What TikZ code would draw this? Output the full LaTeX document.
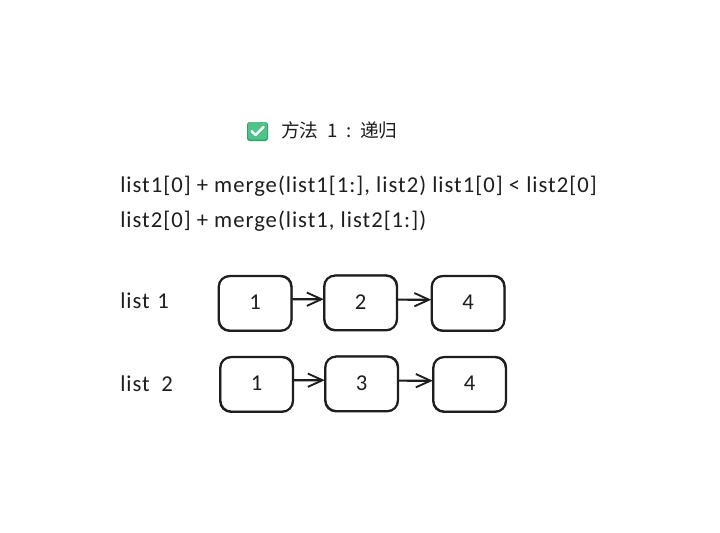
\documentclass[tikz,border=0pt]{standalone}
\usepackage{fontspec}
\setmainfont{Carlito}[LetterSpace=4.4]
\newfontfamily\cjk{Noto Sans CJK SC}
\usetikzlibrary{arrows.meta}
\definecolor{ink}{HTML}{1E1E1E}
\definecolor{chk}{HTML}{4FC38A}
\definecolor{chkd}{HTML}{35A06C}
\newcommand{\dg}[1]{\raisebox{1.5pt}{#1}}
\tikzset{
  box/.style={draw=ink,line width=1.6pt,rounded corners=8pt,minimum width=54.5pt,minimum height=41pt,inner sep=0pt,text=ink,font=\fontsize{17}{19}\selectfont,
    preaction={draw=ink,line width=.8pt,rounded corners=9pt,transform canvas={shift={(.5pt,.5pt)}}}},
  link/.style={draw=ink,line width=1.6pt,-{Straight Barb[length=11pt,width=10pt,line width=1.4pt]},shorten >=-.5pt},
  txt/.style={anchor=base west,inner sep=0pt,text=ink,font=\fontsize{17}{20}\selectfont},
  lab/.style={anchor=base west,inner sep=0pt,text=ink,font=\fontsize{17}{20}\selectfont}
}
\begin{document}
\begin{tikzpicture}[x=.75pt,y=-.75pt]
\useasboundingbox (0,0) rectangle (720,532);
\fill[white] (0,0) rectangle (720,532);
% check icon
\fill[chkd,rounded corners=2pt] (247,122) rectangle (268,141);
\fill[chk,rounded corners=2pt] (248,122) rectangle (267,139.5);
\draw[white,line width=1.6pt,line cap=round,line join=round] (251.5,131) -- (255.5,135) -- (263.5,127);
\node[anchor=base west,inner sep=0pt,text=ink,font=\fontsize{14}{16}\selectfont] (title) at (281,137) {\cjk 方法\hspace{6.5pt}1\hspace{6.5pt}:\hspace{6.5pt}递归};
\node[txt] (l1) at (120,192.5) {list1[0] + merge(list1[1:], list2) list1[0] < list2[0]};
\node[txt] (l2) at (120,227.5) {list2[0] + merge(list1, list2[1:])};
\node[lab] (la) at (120,308) {list\hspace{1pt} 1};
\node[lab] (lb) at (120,391) {list\hspace{4pt} 2};
\node[box] (a1) at (255,303.5) {\dg{1}};
\node[box] (a2) at (360.5,303) {\dg{2}};
\node[box] (a3) at (468,303.5) {\dg{4}};
\node[box] (b1) at (256.5,384.5) {\dg{1}};
\node[box] (b2) at (361.5,384) {\dg{3}};
\node[box] (b3) at (469.5,384.5) {\dg{4}};
\draw[link] ([yshift=3.2pt]a1.east) -- ([yshift=2.85pt]a2.west);
\draw[link] ([yshift=2.5pt]a2.east) -- ([yshift=2.85pt]a3.west);
\draw[link] ([yshift=3.2pt]b1.east) -- ([yshift=2.85pt]b2.west);
\draw[link] ([yshift=2.5pt]b2.east) -- ([yshift=2.85pt]b3.west);
\end{tikzpicture}
\end{document}
